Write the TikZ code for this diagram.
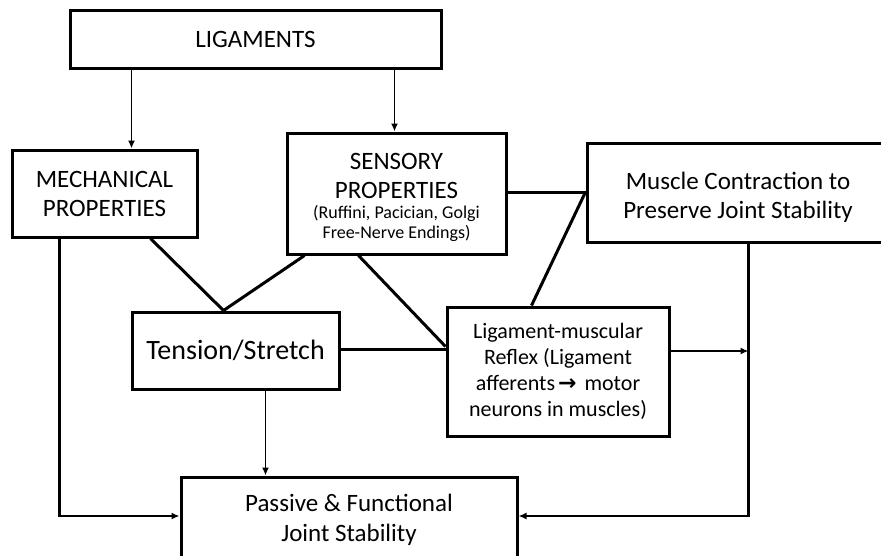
\documentclass[tikz,border=0pt]{standalone}
\usepackage{fontspec}
\setmainfont{Carlito}
\newfontfamily\arrowfont{DejaVu Sans}
\usetikzlibrary{arrows.meta,calc}
\begin{document}
\begin{tikzpicture}[x=1pt,y=-1pt,
  box/.style={draw,line width=3pt,rectangle,inner sep=0pt,align=center,fill=white,
    font=\fontsize{25}{29}\selectfont},
  link/.style={line width=3pt},
  arr/.style={line width=1.8pt,-{Latex[length=8pt,width=7pt]}},
  barr/.style={line width=2.6pt,-{Latex[length=8pt,width=7pt]}}]
\useasboundingbox (0,0) rectangle (881,555);

\node[box,minimum width=371pt,minimum height=58pt] (lig) at (255.5,39) {LIGAMENTS};
\node[box,minimum width=185pt,minimum height=87pt] (mech) at (104.5,193.5) {MECHANICAL\\PROPERTIES};
\node[box,minimum width=219pt,minimum height=121pt,font=\fontsize{25}{20}\selectfont] (sens) at (396.5,193.5)
  {\rule{0pt}{24pt}SENSORY\\[9pt]PROPERTIES\\\fontsize{18}{20}\selectfont (Ruffini, Pacician, Golgi\\\fontsize{18}{20}\selectfont Free-Nerve Endings)};
\node[box,minimum width=302pt,minimum height=99pt] (musc) at (738,192.5)
  {\rule{0pt}{27pt}Muscle Contraction to\\Preserve Joint Stability};
\node[box,minimum width=207pt,minimum height=77pt,font=\fontsize{28}{32}\selectfont] (tens) at (235.5,350.5)
  {Tension/Stretch};
\node[box,minimum width=222pt,minimum height=129pt,font=\fontsize{22}{26}\selectfont] (refl) at (558,371.5)
  {Ligament-muscular\\Reflex (Ligament\\afferents\hspace{3pt}{\arrowfont\bfseries →}\hspace{8pt}motor\\neurons in muscles)};
\node[box,minimum width=336pt,minimum height=86pt,font=\fontsize{25}{30}\selectfont] (pass) at (349,520)
  {Passive \& Functional\\Joint Stability};

% from LIGAMENTS
\draw[arr] ($(lig.south west)+(63,0)$) coordinate (a1) -- (a1 |- mech.north);
\draw[arr] ($(lig.south west)+(326,0)$) coordinate (a2) -- (a2 |- sens.north);

% undirected links
\coordinate (tt) at ($(tens.north west)+(93,0)$);
\draw[link] ($(mech.south west)+(140,0)$) -- (tt);
\draw[link] ($(sens.south west)+(19,0)$) -- (tt);
\draw[link] ($(sens.south west)+(73,0)$) -- ($(refl.north west)+(0,41)$);
\draw[link] ($(tens.east)+(0,-1)$) -- ($(tens.east -| refl.west)+(0,-1)$);
\draw[link] ($(sens.east)+(0,-1.5)$) -- ($(sens.east -| musc.west)+(0,-1.5)$) coordinate (mw);
\draw[link] (mw) -- ($(refl.north west)+(86,0)$);

% arrows to the right column and the bottom box
\coordinate (mr) at ($(musc.south west)+(163,0)$);
\draw[arr] ($(refl.east)+(0,-20.5)$) coordinate (r7) -- (r7 -| mr);
\draw[barr] ($(mech.south west)+(49,0)$) |- ($(pass.west)+(0,-4)$);
\draw[barr] (mr) |- ($(pass.east)+(0,-4)$);
\draw[arr] ($(tens.south west)+(135,0)$) coordinate (t10) -- (t10 |- pass.north);
\end{tikzpicture}
\end{document}
